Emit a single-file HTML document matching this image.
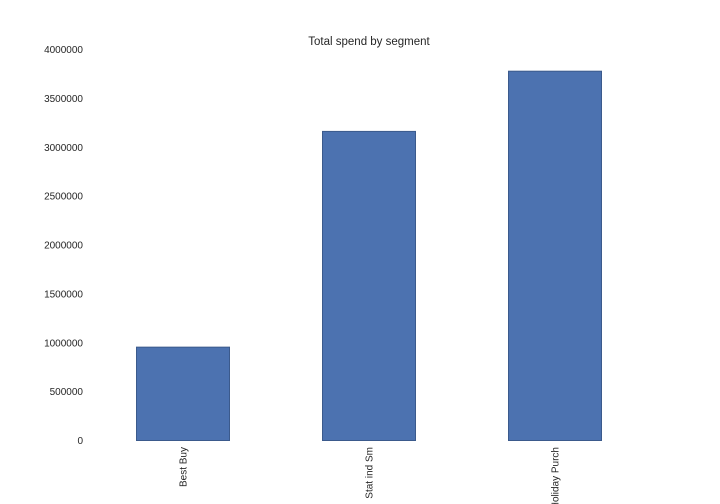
<!DOCTYPE html>
<html><head><meta charset="utf-8"><style>
html,body{margin:0;padding:0;background:#fff;width:720px;height:504px;overflow:hidden}
svg{display:block;font-family:"Liberation Sans",sans-serif}
</style></head><body>
<svg id="chart" width="720" height="504">
<text x="369" y="45" text-anchor="middle" font-size="11.5" fill="#262626">Total spend by segment</text>
<g id="yaxis"></g>
<g id="bars"></g>
<g id="xaxis"></g>
</svg>
<script>
const categories = ["Best Buy", "Stat ind Sm", "Holiday Purch"];
const values = [955000, 3162000, 3778000];
const yTicks = [0, 500000, 1000000, 1500000, 2000000, 2500000, 3000000, 3500000, 4000000];
const yMax = 4000000;

const plotLeft = 90, plotRight = 648, plotTop = 49.5, plotBottom = 440.5;
const ns = "http://www.w3.org/2000/svg";
const yScale = v => plotBottom - (v / yMax) * (plotBottom - plotTop);
const band = (plotRight - plotLeft) / categories.length;
const xc = i => plotLeft + band * (i + 0.5);

const ya = document.getElementById('yaxis');
yTicks.forEach(t => {
  const tx = document.createElementNS(ns, 'text');
  
  
  tx.setAttribute('x', 83); tx.setAttribute('y', yScale(t) + 3.5);
  tx.setAttribute('text-anchor', 'end'); tx.setAttribute('font-size', '10'); tx.setAttribute('fill', '#262626');
  tx.textContent = t;
  ya.appendChild(tx);
});

const bg = document.getElementById('bars');
const xa = document.getElementById('xaxis');
categories.forEach((c, i) => {
  const w = band / 2;
  const r = document.createElementNS(ns, 'rect');
  
  
  r.setAttribute('x', xc(i) - w / 2); r.setAttribute('y', yScale(values[i]));
  r.setAttribute('width', w); r.setAttribute('height', plotBottom - yScale(values[i]));
  r.setAttribute('fill', '#4c72b0'); r.setAttribute('stroke', '#3b5a8c'); r.setAttribute('stroke-width', '1');
  bg.appendChild(r);
  const tx = document.createElementNS(ns, 'text');
  
  
  tx.setAttribute('transform', 'translate(' + (xc(i) + 3.5) + ',447) rotate(-90)');
  tx.setAttribute('text-anchor', 'end'); tx.setAttribute('font-size', '10'); tx.setAttribute('fill', '#262626');
  tx.textContent = c;
  xa.appendChild(tx);
});
</script>
</body></html>
